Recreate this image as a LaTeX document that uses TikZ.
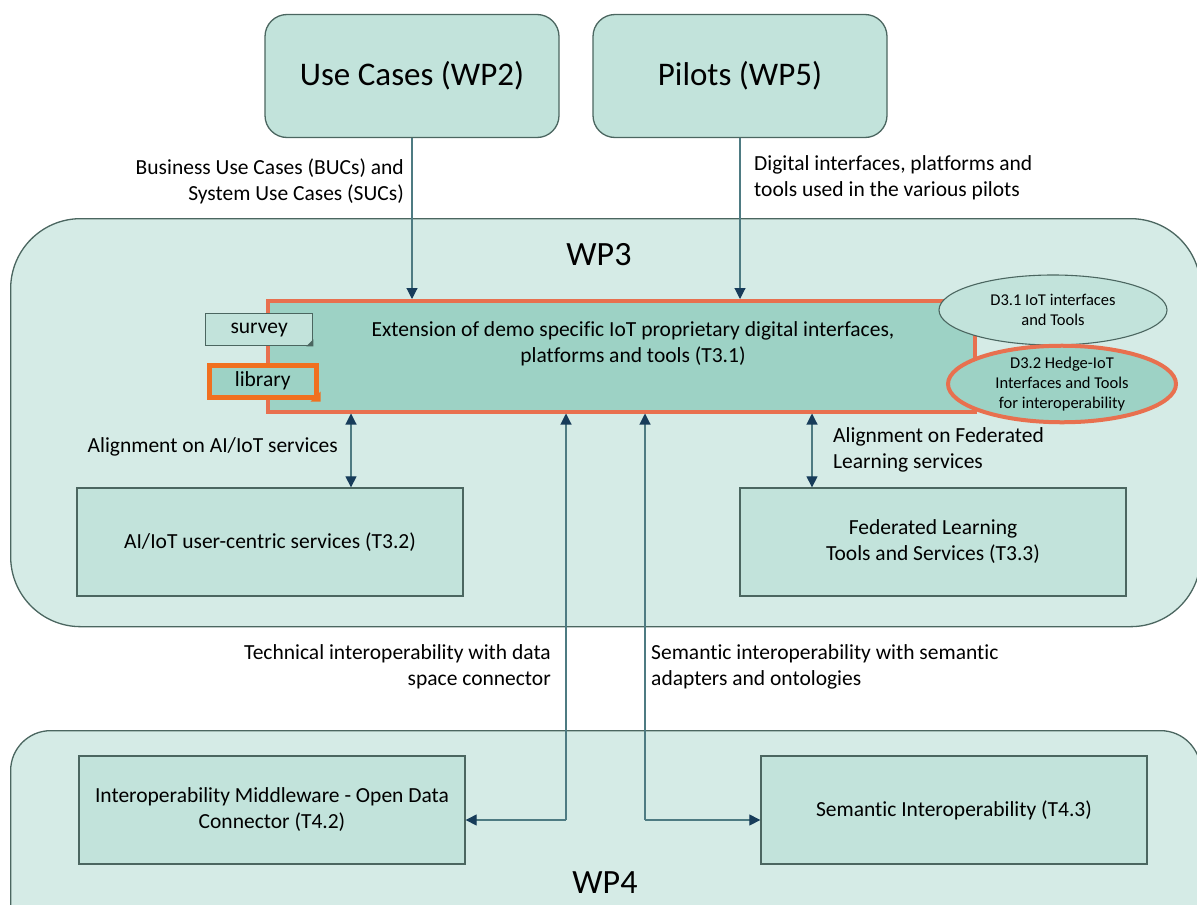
\documentclass[tikz,border=0pt]{standalone}
\usepackage{fontspec}
\setmainfont[Ligatures=NoCommon]{Carlito}
\usetikzlibrary{arrows.meta,shapes.geometric}
\definecolor{bgpale}{HTML}{D5EBE6}
\definecolor{boxfill}{HTML}{C2E3DB}
\definecolor{mainfill}{HTML}{9DD2C5}
\definecolor{edge}{HTML}{4B6660}
\definecolor{orangeA}{HTML}{E8704F}
\definecolor{orangeB}{HTML}{F07020}
\definecolor{linecol}{HTML}{4E7B82}
\definecolor{tipcol}{HTML}{173C5A}
\tikzset{
  wpbox/.style={draw=edge, line width=1.3pt, fill=bgpale, rectangle, rounded corners=#1},
  topbox/.style={draw=edge, line width=1.3pt, fill=boxfill, rounded corners=22pt, minimum width=294pt, minimum height=123pt, font=\fontsize{33}{38}\selectfont},
  taskbox/.style={draw=edge, line width=1.3pt, fill=boxfill, minimum width=386pt, minimum height=108pt, align=center, font=\fontsize{21.5}{26}\selectfont},
  lbl/.style={font=\fontsize{21.5}{26}\selectfont, inner sep=0pt},
  bigl/.style={font=\fontsize{34}{38}\selectfont},
  tip/.tip={Triangle[width=11pt,length=11pt,color=tipcol,fill=tipcol]},
  conn/.style={draw=linecol, line width=1.1pt, -tip},
  dconn/.style={draw=linecol, line width=1.1pt, tip-tip},
  ell/.style={ellipse, inner sep=0pt, align=center, font=\fontsize{16.5}{20}\selectfont},
}
\begin{document}
\begin{tikzpicture}[x=1pt,y=-1pt]
\useasboundingbox (0,0) rectangle (1197,905);
\clip (0,0) rectangle (1197,905);
% work package containers
\node[wpbox=70pt, minimum width=1190pt, minimum height=408pt, anchor=north west] (wp3) at (10,218) {};
\node[wpbox=40pt, minimum width=1190pt, minimum height=240pt, anchor=north west] (wp4) at (10,730) {};
\node[bigl] (wp3l) at (599,255) {WP3};
\node[bigl] (wp4l) at (605,883) {WP4};
% top boxes
\node[topbox] (uc) at (412,76) {Use Cases (WP2)};
\node[topbox] (pil) at (740,76) {Pilots (WP5)};
% main task box
\node[draw=orangeA, line width=3.5pt, fill=mainfill, minimum width=707pt, minimum height=111pt, anchor=north west] (t31) at (266,299) {};
\node[lbl, align=center] (t31t) at (633,344) {Extension of demo specific IoT proprietary digital interfaces,\\platforms and tools (T3.1)};
% survey / library
\node[draw=edge, line width=1.3pt, fill=boxfill, minimum width=107pt, minimum height=32pt, anchor=north west, lbl] (sv) at (205,313) {survey};
\fill[edge] (sv.south east) -- ++(-7,0) -- ++(7,-7) -- cycle;
\node[draw=orangeB, line width=4.5pt, fill=mainfill, minimum width=107pt, minimum height=32pt, anchor=north west, lbl] (lib) at (207,363) {library};
\fill[orangeB] ([shift={(2,2)}]lib.south east) -- ++(-10,0) -- ++(10,-10) -- cycle;
% deliverable ellipses
\node[ell, draw=edge, line width=1.1pt, fill=boxfill, minimum width=228pt, minimum height=70pt] (d31) at (1053,310) {D3.1 IoT interfaces\\and Tools};
\node[ell, draw=orangeA, line width=4pt, fill=mainfill, minimum width=228pt, minimum height=74pt] (d32) at (1062,384) {D3.2 Hedge-IoT\\Interfaces and Tools\\for interoperability};
% sub tasks
\node[taskbox] (t32) at (270,542) {AI/IoT user-centric services (T3.2)};
\node[taskbox] (t33) at (933,542) {Federated Learning\\Tools and Services (T3.3)};
\node[taskbox] (t42) at (272,810) {Interoperability Middleware - Open Data\\Connector (T4.2)};
\node[taskbox] (t43) at (954,810) {Semantic Interoperability (T4.3)};
% helper coordinates
\coordinate (xa) at (351,0);
\coordinate (xb) at (812,0);
\coordinate (xc) at (566,0);
\coordinate (xd) at (645,0);
\coordinate (ya) at (0,820);
% connectors
\draw[conn] (uc.south) -- (uc.south |- t31.north);
\draw[conn] (pil.south) -- (pil.south |- t31.north);
\draw[dconn] (xa |- t31.south) -- (xa |- t32.north);
\draw[dconn] (xb |- t31.south) -- (xb |- t33.north);
\draw[conn] (xc |- ya) -- (xc |- t31.south);
\draw[conn] (xc |- ya) -- (t42.east |- ya);
\draw[conn] (xd |- ya) -- (xd |- t31.south);
\draw[conn] (xd |- ya) -- (t43.west |- ya);
% labels
\node[lbl, align=right, anchor=east] (l1) at (404,181) {Business Use Cases (BUCs) and\\System Use Cases (SUCs)};
\node[lbl, align=left, anchor=west] (l2) at (754,178) {Digital interfaces, platforms and\\tools used in the various pilots};
\node[lbl, anchor=east] (l3) at (338,447) {Alignment on AI/IoT services};
\node[lbl, align=left, anchor=west] (l4) at (833,450) {Alignment on Federated\\Learning services};
\node[lbl, align=right, anchor=east] (l5) at (551,667) {Technical interoperability with data\\space connector};
\node[lbl, align=left, anchor=west] (l6) at (651,667) {Semantic interoperability with semantic\\adapters and ontologies};
\end{tikzpicture}
\end{document}
